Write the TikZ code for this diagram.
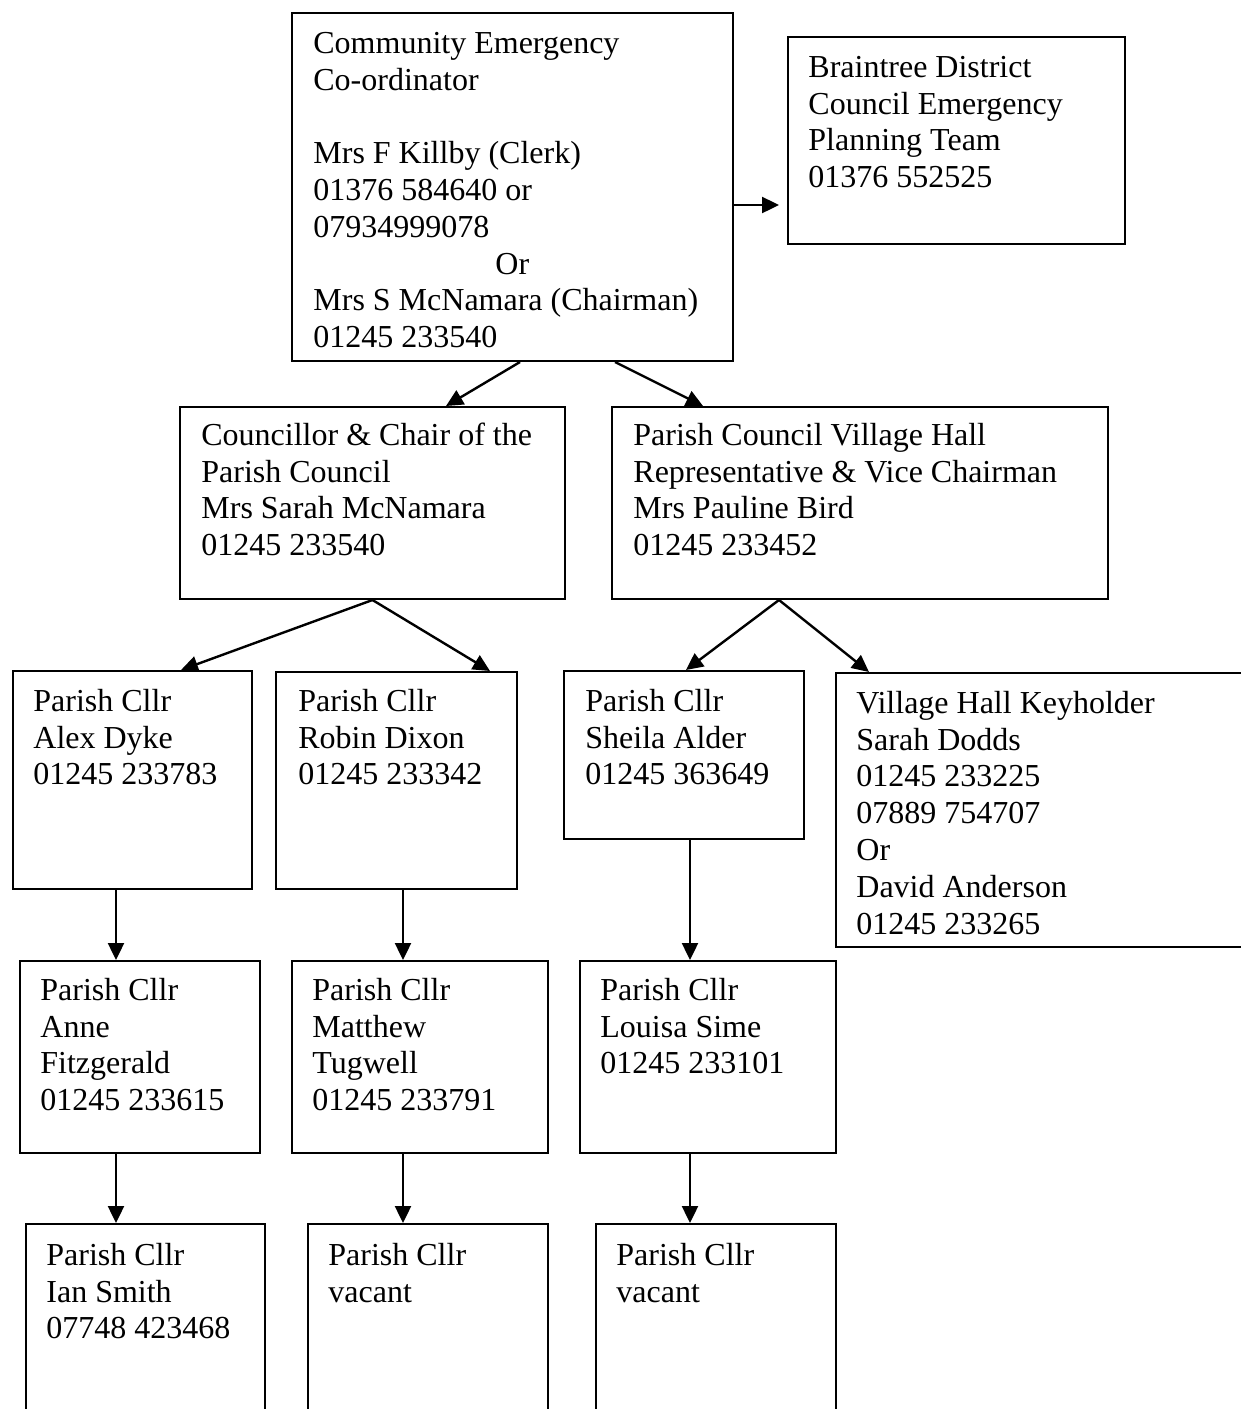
\documentclass[tikz,border=0pt]{standalone}
\usepackage{fontspec}
\setmainfont{Liberation Serif}
\usetikzlibrary{arrows.meta}
\begin{document}
\begin{tikzpicture}[x=0.5pt,y=-0.5pt,
  box/.style={draw, line width=1pt, rectangle, inner sep=0pt, anchor=north west},
  txt/.style={anchor=north west, inner sep=0pt, align=left, font=\fontsize{16pt}{18.4pt}\selectfont},
  arr/.style={line width=1.2pt, -{Triangle[length=8.5pt,width=8pt]}}]
\useasboundingbox (0,0) rectangle (1241,1409);
\clip (0,0) rectangle (1241,1409);
% boxes
\node[box, minimum width=220.5pt, minimum height=174pt] (cec) at (291,12) {};
\node[box, minimum width=168.5pt, minimum height=103.5pt] (bdc) at (787,36) {};
\node[box, minimum width=192.5pt, minimum height=96pt] (cpc) at (179,406) {};
\node[box, minimum width=248pt, minimum height=96pt] (pcv) at (611,406) {};
\node[box, minimum width=119.5pt, minimum height=109pt] (alex) at (12,670) {};
\node[box, minimum width=120.5pt, minimum height=108.5pt] (robin) at (275,671) {};
\node[box, minimum width=120pt, minimum height=84pt] (sheila) at (563,670) {};
\node[box, minimum width=217.5pt, minimum height=137pt] (keyh) at (835,672) {};
\node[box, minimum width=120pt, minimum height=96pt] (anne) at (19,960) {};
\node[box, minimum width=128pt, minimum height=96pt] (matt) at (291,960) {};
\node[box, minimum width=128pt, minimum height=96pt] (louisa) at (579,960) {};
\node[box, minimum width=119.5pt, minimum height=110pt] (ian) at (25,1223) {};
\node[box, minimum width=120pt, minimum height=110pt] (vaca) at (307,1223) {};
\node[box, minimum width=120pt, minimum height=110pt] (vacb) at (595,1223) {};
% texts
\node[txt] (cect) at (313,27.2) {\strut Community Emergency\\Co-ordinator\\[18.4pt]Mrs F Killby (Clerk)\\01376 584640 or\\07934999078\\\hspace*{91pt}Or\\Mrs S McNamara (Chairman)\\01245 233540};
\node[txt] (bdct) at (808,51.2) {\strut Braintree District\\Council Emergency\\Planning Team\\01376 552525};
\node[txt] (cpct) at (201,419.2) {\strut Councillor \& Chair of the\\Parish Council\\Mrs Sarah McNamara\\01245 233540};
\node[txt] (pcvt) at (633,419.2) {\strut Parish Council Village Hall\\Representative \& Vice Chairman\\Mrs Pauline Bird\\01245 233452};
\node[txt] (alext) at (33,685.2) {\strut Parish Cllr\\Alex Dyke\\01245 233783};
\node[txt] (robint) at (298,685.2) {\strut Parish Cllr\\Robin Dixon\\01245 233342};
\node[txt] (sheilat) at (585,685.2) {\strut Parish Cllr\\Sheila Alder\\01245 363649};
\node[txt] (keyht) at (856,687.2) {\strut Village Hall Keyholder\\Sarah Dodds\\01245 233225\\07889 754707\\Or\\David Anderson\\01245 233265};
\node[txt] (annet) at (40,974.2) {\strut Parish Cllr\\Anne\\Fitzgerald\\01245 233615};
\node[txt] (mattt) at (312,974.2) {\strut Parish Cllr\\Matthew\\Tugwell\\01245 233791};
\node[txt] (louisat) at (600,974.2) {\strut Parish Cllr\\Louisa Sime\\01245 233101};
\node[txt] (iant) at (46,1239.2) {\strut Parish Cllr\\Ian Smith\\07748 423468};
\node[txt] (vacat) at (328,1239.2) {\strut Parish Cllr\\vacant};
\node[txt] (vacbt) at (616,1239.2) {\strut Parish Cllr\\vacant};
% connectors
\draw[arr, shorten >=4pt] ([yshift=-9pt]cec.east) -- ([yshift=-9pt]cec.east -| bdc.west);
\draw[arr] ([shift={(229,0)}]cec.south west) -- ([shift={(267,0)}]cpc.north west);
\draw[arr] ([shift={(324,0)}]cec.south west) -- ([shift={(92,0)}]pcv.north west);
\draw[arr] (cpc.south) -- ([shift={(169,0)}]alex.north west);
\draw[arr] (cpc.south) -- ([shift={(215,0)}]robin.north west);
\draw[arr] ([shift={(168,0)}]pcv.south west) -- ([shift={(123,0)}]sheila.north west);
\draw[arr] ([shift={(168,0)}]pcv.south west) -- ([shift={(34,0)}]keyh.north west);
\draw[arr] ([shift={(104,0)}]alex.south west) -- ([shift={(104,0)}]alex.south west |- anne.north);
\draw[arr] ([shift={(128,0)}]robin.south west) -- ([shift={(128,0)}]robin.south west |- matt.north);
\draw[arr] ([shift={(127,0)}]sheila.south west) -- ([shift={(127,0)}]sheila.south west |- louisa.north);
\draw[arr] ([shift={(97,0)}]anne.south west) -- ([shift={(97,0)}]anne.south west |- ian.north);
\draw[arr] ([shift={(112,0)}]matt.south west) -- ([shift={(112,0)}]matt.south west |- vaca.north);
\draw[arr] ([shift={(111,0)}]louisa.south west) -- ([shift={(111,0)}]louisa.south west |- vacb.north);
\end{tikzpicture}
\end{document}
